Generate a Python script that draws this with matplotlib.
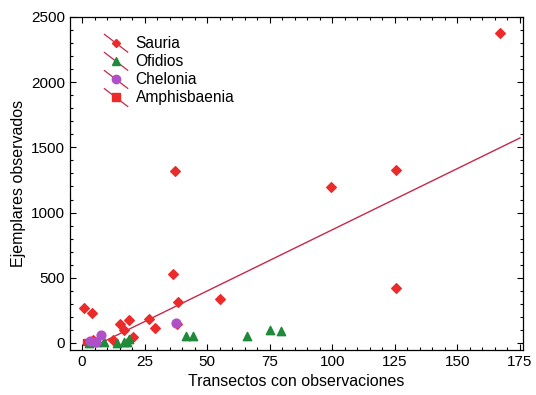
import matplotlib
matplotlib.use("Agg")
import matplotlib.pyplot as plt
import numpy as np
from matplotlib.legend_handler import HandlerLine2D
from matplotlib.lines import Line2D
from matplotlib.ticker import MultipleLocator

plt.rcParams['font.family'] = ['Liberation Sans', 'DejaVu Sans']

# Sauria
sauria_x = [167, 37, 99.5, 125.5, 125.4, 36.2, 0.8, 4.1, 38.2, 55.3, 15.1, 18.9,
            16.9, 26.9, 29.3, 37.8, 20.3, 12.3, 4.2]
sauria_y = [2377, 1319, 1196, 1327, 424, 529, 268, 228, 316, 335, 148, 179,
            100, 186, 112, 146, 44, 23, 20]
# Ofidios
ofidios_x = [2.8, 5.7, 8.6, 13.8, 16.8, 17.8, 18.9, 41.6, 44.2, 66.1, 75.1, 79.4]
ofidios_y = [2, 4, 4, 3, 4, 10, 30, 54, 54, 50, 100, 93]
# Chelonia
chelonia_x = [3.0, 5.6, 7.7, 37.4]
chelonia_y = [16, 10, 58, 151]
# Amphisbaenia
amphis_x = [1.5]
amphis_y = [6]

# linear trend
trend_x = [4.4, 175]
trend_intercept = -71
trend_slope = 9.39


class DiagHandler(HandlerLine2D):
    # marker with a red slash through it, like the original legend
    def create_artists(self, legend, orig_handle, xdescent, ydescent,
                       width, height, fontsize, trans):
        arts = super().create_artists(legend, orig_handle, xdescent, ydescent,
                                      width, height, fontsize, trans)
        slash = Line2D([-xdescent, width - xdescent],
                       [height - ydescent + 2, -ydescent - 3],
                       color='#c8284a', lw=0.9, transform=trans)
        return [slash] + list(arts)


fig = plt.figure(figsize=(5.36, 3.95), dpi=100)
ax = fig.add_axes([0.1306, 0.114, 0.8451, 0.843])

tx = np.array(trend_x)
ax.plot(tx, trend_intercept + trend_slope * tx, color='#c8284a', lw=1.0, zorder=2)

ax.scatter(sauria_x, sauria_y, marker='D', s=24, color='#ec2a2a', zorder=3)
ax.scatter(ofidios_x, ofidios_y, marker='^', s=36, color='#1e8a3a', zorder=4)
ax.scatter(chelonia_x, chelonia_y, marker='o', s=40, color='#b050c8', zorder=5)
ax.scatter(amphis_x, amphis_y, marker='s', s=20, color='#ec2a2a', zorder=3)

handles = [
    Line2D([], [], ls='none', marker='D', ms=4.5, color='#ec2a2a'),
    Line2D([], [], ls='none', marker='^', ms=6, color='#1e8a3a'),
    Line2D([], [], ls='none', marker='o', ms=6, color='#b050c8'),
    Line2D([], [], ls='none', marker='s', ms=6, color='#ec2a2a'),
]
labels = ['Sauria', 'Ofidios', 'Chelonia', 'Amphisbaenia']
ax.legend(handles, labels, loc='upper left', bbox_to_anchor=(0.045, 0.985),
          frameon=False, fontsize=11.2, handlelength=1.5, handletextpad=0.5,
          labelspacing=0.2, handler_map={h: DiagHandler() for h in handles})

ax.set_xlim(-4.8, 176.2)
ax.set_ylim(-54, 2500)
ax.xaxis.set_major_locator(MultipleLocator(25))
ax.xaxis.set_minor_locator(MultipleLocator(5))
ax.yaxis.set_major_locator(MultipleLocator(500))
ax.yaxis.set_minor_locator(MultipleLocator(100))
ax.tick_params(which='both', direction='in', top=True, right=True,
               labelsize=11, width=0.8)
ax.tick_params(which='major', length=4)
ax.tick_params(which='minor', length=2)
for sp in ax.spines.values():
    sp.set_linewidth(0.9)

ax.set_xlabel('Transectos con observaciones', fontsize=11.5)
ax.set_ylabel('Ejemplares observados', fontsize=11.5)

fig.savefig('out.png', dpi=100)
